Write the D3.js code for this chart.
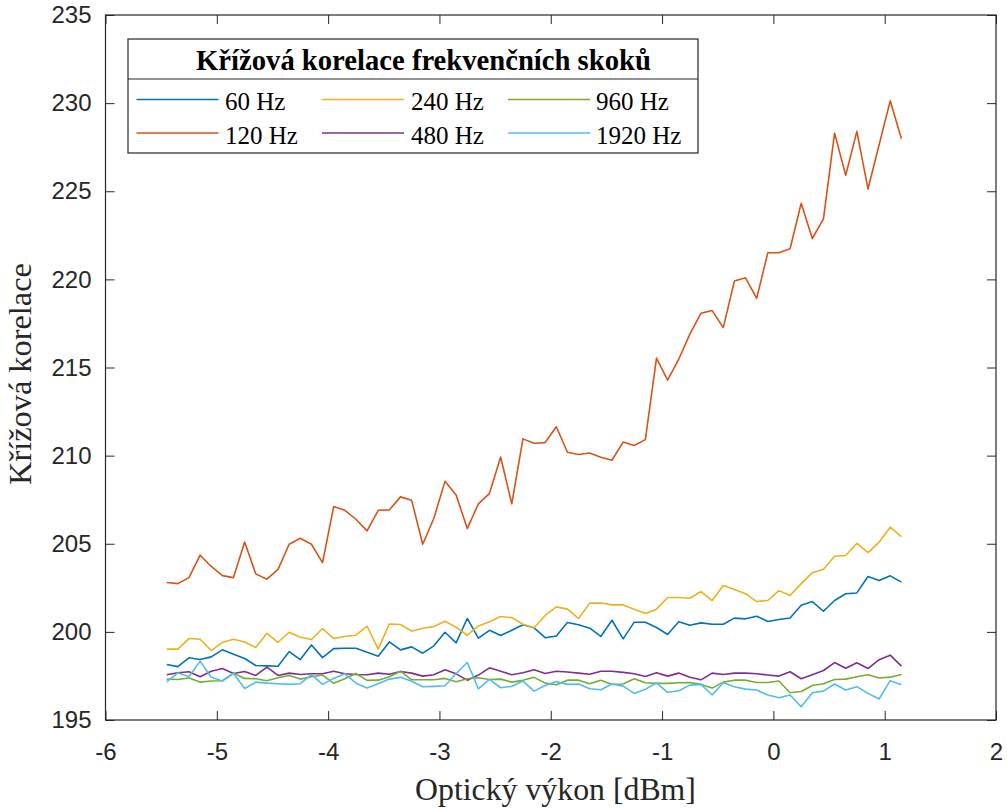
<!DOCTYPE html>
<html>
<head>
<meta charset="utf-8">
<script src="https://cdn.jsdelivr.net/npm/d3@7"></script>
<style>
  html, body { margin: 0; padding: 0; background: #fff; }
  svg { display: block; }
</style>
</head>
<body>
<div id="chart"></div>
<script>
// ---------------- DATA ----------------
const power = [-5.45,-5.35,-5.25,-5.15,-5.05,-4.95,-4.85,-4.75,-4.65,-4.55,
  -4.45,-4.35,-4.25,-4.15,-4.05,-3.95,-3.85,-3.75,-3.65,-3.55,
  -3.45,-3.35,-3.25,-3.15,-3.05,-2.95,-2.85,-2.75,-2.65,-2.55,
  -2.45,-2.35,-2.25,-2.15,-2.05,-1.95,-1.85,-1.75,-1.65,-1.55,
  -1.45,-1.35,-1.25,-1.15,-1.05,-0.95,-0.85,-0.75,-0.65,-0.55,
  -0.45,-0.35,-0.25,-0.15,-0.05,0.05,0.15,0.25,0.35,0.45,
  0.55,0.65,0.75,0.85,0.95,1.05,1.15];

const s60 = [198.15,198.03,198.53,198.43,198.58,198.98,198.73,198.49,198.09,198.07,
  198.05,198.88,198.43,199.26,198.54,199.05,199.07,199.07,198.85,198.62,
  199.43,198.98,199.15,198.79,199.21,199.98,199.38,200.76,199.64,200.09,
  199.79,200.09,200.40,200.23,199.67,199.77,200.53,200.40,200.21,199.74,
  200.66,199.60,200.55,200.55,200.25,199.85,200.57,200.38,200.51,200.43,
  200.43,200.78,200.74,200.89,200.59,200.70,200.79,201.51,201.72,201.17,
  201.78,202.16,202.21,203.14,202.91,203.18,202.82];

const s120 = [202.80,202.74,203.08,204.35,203.71,203.19,203.08,205.10,203.29,202.99,
  203.55,204.97,205.31,204.97,203.93,207.11,206.90,206.39,205.73,206.90,
  206.92,207.66,207.47,204.97,206.45,208.54,207.77,205.86,207.26,207.86,
  209.92,207.26,210.95,210.70,210.74,211.64,210.19,210.06,210.15,209.91,
  209.74,210.77,210.57,210.91,215.53,214.28,215.47,216.89,218.08,218.23,
  217.26,219.91,220.09,218.92,221.51,221.51,221.74,224.32,222.32,223.43,
  228.30,225.91,228.40,225.13,227.64,230.13,227.98];

const s240 = [199.02,199.02,199.62,199.58,198.94,199.40,199.58,199.43,199.11,199.92,
  199.41,199.98,199.70,199.57,200.19,199.62,199.74,199.81,200.32,199.02,
  200.45,200.42,200.04,200.21,200.30,200.60,200.26,199.81,200.34,200.57,
  200.87,200.81,200.43,200.23,200.93,201.42,201.29,200.76,201.63,201.64,
  201.53,201.53,201.29,201.04,201.29,201.95,201.95,201.91,202.29,201.78,
  202.63,202.40,202.17,201.72,201.78,202.34,202.06,202.74,203.36,203.55,
  204.29,204.33,205.03,204.50,205.09,205.94,205.41];

const s480 = [197.57,197.68,197.74,197.45,197.77,197.92,197.64,197.75,197.53,198.00,
  197.53,197.66,197.58,197.62,197.62,197.77,197.62,197.58,197.57,197.66,
  197.60,197.75,197.66,197.49,197.57,197.85,197.62,197.26,197.55,197.96,
  197.77,197.57,197.68,197.85,197.64,197.77,197.72,197.66,197.60,197.77,
  197.77,197.70,197.62,197.47,197.68,197.49,197.66,197.43,197.28,197.66,
  197.58,197.66,197.66,197.62,197.55,197.49,197.74,197.34,197.57,197.81,
  198.26,197.94,198.25,197.92,198.42,198.68,198.06];

const s960 = [197.32,197.30,197.38,197.15,197.21,197.23,197.66,197.36,197.34,197.23,
  197.40,197.53,197.32,197.45,197.55,197.08,197.34,197.64,197.25,197.26,
  197.45,197.77,197.28,197.28,197.28,197.36,197.17,197.34,197.40,197.30,
  197.32,197.15,197.25,197.42,197.09,197.00,197.26,197.26,197.06,197.25,
  197.02,197.04,197.34,197.11,197.08,197.08,197.11,197.13,197.02,196.81,
  197.15,197.26,197.26,197.13,197.13,197.21,196.55,196.62,196.96,197.06,
  197.30,197.32,197.45,197.57,197.38,197.43,197.58];

const s1920 = [197.17,197.68,197.45,198.34,197.43,197.21,197.64,196.79,197.15,197.09,
  197.06,197.02,197.06,197.58,197.02,197.36,197.62,197.09,196.81,197.06,
  197.32,197.42,197.20,196.89,196.91,196.94,197.64,198.26,196.77,197.30,
  196.83,196.91,197.21,196.64,196.96,197.19,197.02,197.04,196.77,196.72,
  197.04,196.92,196.51,196.74,197.11,196.57,196.66,196.98,197.02,196.42,
  197.11,196.89,196.75,196.70,196.42,196.26,196.42,195.75,196.55,196.64,
  197.04,196.70,196.89,196.51,196.19,197.23,197.00];

const seriesNames = ["60 Hz","120 Hz","240 Hz","480 Hz","960 Hz","1920 Hz"];
const seriesValues = [s60, s120, s240, s480, s960, s1920];
const seriesColors = ["#0072BD","#D95319","#EDB120","#7E2F8E","#77AC30","#4DBEEE"];

const xTicks = [-6,-5,-4,-3,-2,-1,0,1,2];
const xTickLabels = ["-6","-5","-4","-3","-2","-1","0","1","2"];
const yTicks = [195,200,205,210,215,220,225,230,235];
const yTickLabels = ["195","200","205","210","215","220","225","230","235"];

const legendTitle = "Křížová korelace frekvenčních skoků";
const xLabel = "Optický výkon [dBm]";
const yLabel = "Křížová korelace";

// ---------------- LAYOUT ----------------
const W = 1007, H = 809;
const L = 105.5, R = 996, T = 15, B = 720;
const axisColor = "#262626";

const svg = d3.select("#chart").append("svg")
  .attr("width", W).attr("height", H)
  .attr("viewBox", `0 0 ${W} ${H}`);

const x = d3.scaleLinear().domain([-6, 2]).range([L, R]);
const y = d3.scaleLinear().domain([195, 235]).range([B, T]);

function styleAxis(g) {
  g.select(".domain").remove();
  g.selectAll(".tick line").attr("stroke", axisColor).attr("stroke-width", 1);
  g.selectAll(".tick text")
    .attr("fill", "#262626")
    .attr("font-family", "'Liberation Sans', Arial, sans-serif")
    .attr("font-size", 24);
}

// bottom axis
svg.append("g").attr("transform", `translate(0,${B})`)
  .call(d3.axisBottom(x).tickValues(xTicks)
    .tickFormat((d, i) => xTickLabels[i]).tickSize(-9).tickPadding(23))
  .call(styleAxis);
// top axis (ticks only)
svg.append("g").attr("transform", `translate(0,${T})`)
  .call(d3.axisTop(x).tickValues(xTicks).tickFormat("").tickSize(-9))
  .call(styleAxis);
// left axis
svg.append("g").attr("transform", `translate(${L},0)`)
  .call(d3.axisLeft(y).tickValues(yTicks)
    .tickFormat((d, i) => yTickLabels[i]).tickSize(-9).tickPadding(14))
  .call(styleAxis);
// right axis (ticks only)
svg.append("g").attr("transform", `translate(${R},0)`)
  .call(d3.axisRight(y).tickValues(yTicks).tickFormat("").tickSize(-9))
  .call(styleAxis);

// box
svg.append("rect")
  .attr("x", L).attr("y", T).attr("width", R - L).attr("height", B - T)
  .attr("fill", "none").attr("stroke", axisColor).attr("stroke-width", 1.2);

// lines
const line = d3.line().x((d, i) => x(power[i])).y(d => y(d));
svg.append("g").selectAll("path")
  .data(seriesValues)
  .join("path")
  .attr("d", d => line(d))
  .attr("fill", "none")
  .attr("stroke", (d, i) => seriesColors[i])
  .attr("stroke-width", 1.6)
  .attr("stroke-linejoin", "round");

function fit(sel, target) {
  const len = sel.node().getComputedTextLength();
  const fs = parseFloat(sel.attr("font-size"));
  sel.attr("font-size", fs * target / len);
}

// axis labels
const xl = svg.append("text")
  .attr("x", 555.5).attr("y", 800)
  .attr("text-anchor", "middle")
  .attr("font-family", "'Liberation Serif', 'Times New Roman', serif")
  .attr("font-size", 30).attr("fill", "#262626")
  .text(xLabel);
fit(xl, 281);

const yl = svg.append("text")
  .attr("transform", "translate(31,374) rotate(-90)")
  .attr("text-anchor", "middle")
  .attr("font-family", "'Liberation Serif', 'Times New Roman', serif")
  .attr("font-size", 30).attr("fill", "#262626")
  .text(yLabel);
fit(yl, 222);

// legend
const lg = svg.append("g");
lg.append("rect")
  .attr("x", 128).attr("y", 39).attr("width", 570).attr("height", 114)
  .attr("fill", "#fff").attr("stroke", axisColor).attr("stroke-width", 1.2);
lg.append("line")
  .attr("x1", 128).attr("x2", 698).attr("y1", 79).attr("y2", 79)
  .attr("stroke", axisColor).attr("stroke-width", 1.2);
const tt = lg.append("text")
  .attr("x", 423.5).attr("y", 70)
  .attr("text-anchor", "middle")
  .attr("font-family", "'Liberation Serif', 'Times New Roman', serif")
  .attr("font-weight", "bold")
  .attr("font-size", 24).attr("fill", "#000")
  .text(legendTitle);
fit(tt, 455);

const colLineX = [136.5, 322, 508];
const colTextX = [225, 411, 596];
const rowLineY = [99.5, 133];
const rowTextY = [110, 144];
seriesNames.forEach((name, i) => {
  const col = Math.floor(i / 2), row = i % 2;
  lg.append("line")
    .attr("x1", colLineX[col]).attr("x2", colLineX[col] + 82)
    .attr("y1", rowLineY[row]).attr("y2", rowLineY[row])
    .attr("stroke", seriesColors[i]).attr("stroke-width", 1.6);
  lg.append("text")
    .attr("x", colTextX[col]).attr("y", rowTextY[row])
    .attr("font-family", "'Liberation Serif', 'Times New Roman', serif")
    .attr("font-size", 25).attr("fill", "#000")
    .text(name);
});
</script>
</body>
</html>
